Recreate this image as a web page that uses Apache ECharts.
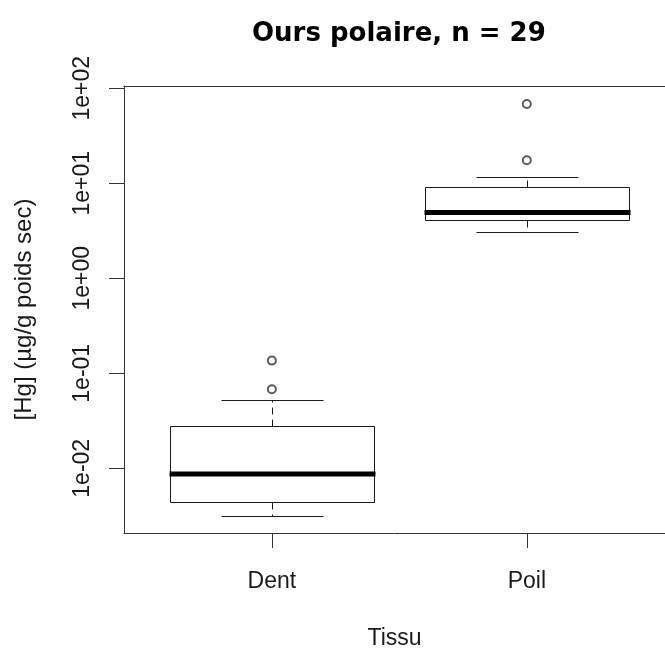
<!DOCTYPE html>
<html>
<head>
<meta charset="utf-8">
<script src="https://cdn.jsdelivr.net/npm/echarts@6/dist/echarts.min.js"></script>
<style>
  html, body { margin: 0; padding: 0; background: #ffffff; }
  #main { width: 665px; height: 649px; }
</style>
</head>
<body>
<div id="main"></div>
<script>
// categories and box statistics (log scale)
var categories = ["Dent", "Poil"];
var lowWhisker = [0.00315, 3.07];
var q1 = [0.00445, 4.08];
var median = [0.0087, 4.93];
var q3 = [0.0281, 9.2];
var highWhisker = [0.0524, 11.6];
var outliers = [[0.136, 0.0679], [68.4, 17.5]];

// axis ticks
var yTickValues = [0.01, 0.1, 1, 10, 100];
var yTickLabels = ["1e-02", "1e-01", "1e+00", "1e+01", "1e+02"];

var font = "Liberation Sans, Arial, sans-serif";
var ink = "#1a1a1a";
var frame = "#333333";

var boxData = categories.map(function (c, i) {
  return [i + 1, lowWhisker[i], q1[i], median[i], q3[i], highWhisker[i]];
});
var outlierData = [];
outliers.forEach(function (list, i) {
  list.forEach(function (v) { outlierData.push([i + 1, v]); });
});

function px(v) { return Math.round(v) + 0.5; }

function renderBox(params, api) {
  var x = api.value(0);
  var left = px(api.coord([x - 0.4, api.value(2)])[0]);
  var right = px(api.coord([x + 0.4, api.value(2)])[0]);
  var capL = px(api.coord([x - 0.2, api.value(2)])[0]);
  var capR = px(api.coord([x + 0.2, api.value(2)])[0]);
  var cx = px(api.coord([x, api.value(2)])[0]);
  var yLo = px(api.coord([x, api.value(1)])[1]);
  var yQ1 = px(api.coord([x, api.value(2)])[1]);
  var yMed = api.coord([x, api.value(3)])[1];
  var yQ3 = px(api.coord([x, api.value(4)])[1]);
  var yHi = px(api.coord([x, api.value(5)])[1]);
  var solid = { stroke: ink, lineWidth: 1, fill: null };
  var dashed = { stroke: ink, lineWidth: 1, lineDash: [7, 5], fill: null };
  return {
    type: "group",
    children: [
      { type: "line", shape: { x1: cx, y1: yQ3, x2: cx, y2: yHi }, style: dashed },
      { type: "line", shape: { x1: cx, y1: yQ1, x2: cx, y2: yLo }, style: dashed },
      { type: "line", shape: { x1: capL, y1: yHi, x2: capR, y2: yHi }, style: solid },
      { type: "line", shape: { x1: capL, y1: yLo, x2: capR, y2: yLo }, style: solid },
      { type: "rect", shape: { x: left, y: yQ3, width: right - left, height: yQ1 - yQ3 },
        style: { stroke: ink, lineWidth: 1, fill: "#ffffff" } },
      { type: "line", shape: { x1: left - 1, y1: yMed, x2: right + 1, y2: yMed },
        style: { stroke: "#000000", lineWidth: 5 } }
    ]
  };
}

var chart = echarts.init(document.getElementById("main"));
chart.setOption({
  animation: false,
  backgroundColor: "#ffffff",
  graphic: [{
    type: "text",
    left: 399 - 147,
    top: 21,
    style: {
      text: "Ours polaire, n = 29",
      font: "bold 26px DejaVu Sans, sans-serif",
      fill: "#000000"
    }
  }],
  grid: {
    left: 124, top: 86, right: 0, bottom: 116,
    show: false,
    containLabel: false,
    outerBoundsMode: "none"
  },
  xAxis: [{
    type: "value",
    min: 0.42, max: 2.542,
    name: "Tissu",
    nameLocation: "middle",
    nameGap: 94,
    nameTextStyle: { fontFamily: font, fontSize: 23, color: ink },
    splitLine: { show: false },
    axisLine: { show: true, onZero: false, lineStyle: { color: frame, width: 1 } },
    axisTick: { show: true, length: 15, customValues: [1, 2], lineStyle: { color: frame } },
    axisLabel: {
      customValues: [1, 2],
      margin: 37,
      fontFamily: font, fontSize: 23, color: ink,
      formatter: function (v) { return categories[Math.round(v) - 1] || ""; }
    }
  }, {
    // top side of the frame
    type: "value",
    position: "top",
    min: 0.42, max: 2.542,
    splitLine: { show: false },
    axisLine: { show: true, onZero: false, lineStyle: { color: frame, width: 1 } },
    axisTick: { show: false },
    axisLabel: { show: false }
  }],
  yAxis: {
    type: "log",
    logBase: 10,
    min: 0.002084, max: 105.7,
    name: "[Hg] (µg/g poids sec)",
    nameLocation: "middle",
    nameGap: 88,
    nameTextStyle: { fontFamily: font, fontSize: 24, color: ink },
    splitLine: { show: false },
    axisLine: { show: true, onZero: false, lineStyle: { color: frame, width: 1 } },
    axisTick: { show: true, length: 15, customValues: yTickValues, lineStyle: { color: frame } },
    axisLabel: {
      customValues: yTickValues,
      rotate: 90,
      margin: 30,
      fontFamily: font, fontSize: 23, color: ink,
      formatter: function (v) {
        var k = yTickValues.findIndex(function (t) { return Math.abs(Math.log10(t) - Math.log10(v)) < 1e-6; });
        return k >= 0 ? yTickLabels[k] : "";
      }
    }
  },
  series: [
    {
      type: "custom",
      renderItem: renderBox,
      encode: { x: 0, y: [1, 2, 3, 4, 5] },
      data: boxData,
      z: 2
    },
    {
      type: "scatter",
      symbol: "emptyCircle",
      symbolSize: 8,
      itemStyle: { color: "#333333", borderWidth: 1 },
      data: outlierData,
      z: 3
    }
  ]
});
</script>
</body>
</html>
